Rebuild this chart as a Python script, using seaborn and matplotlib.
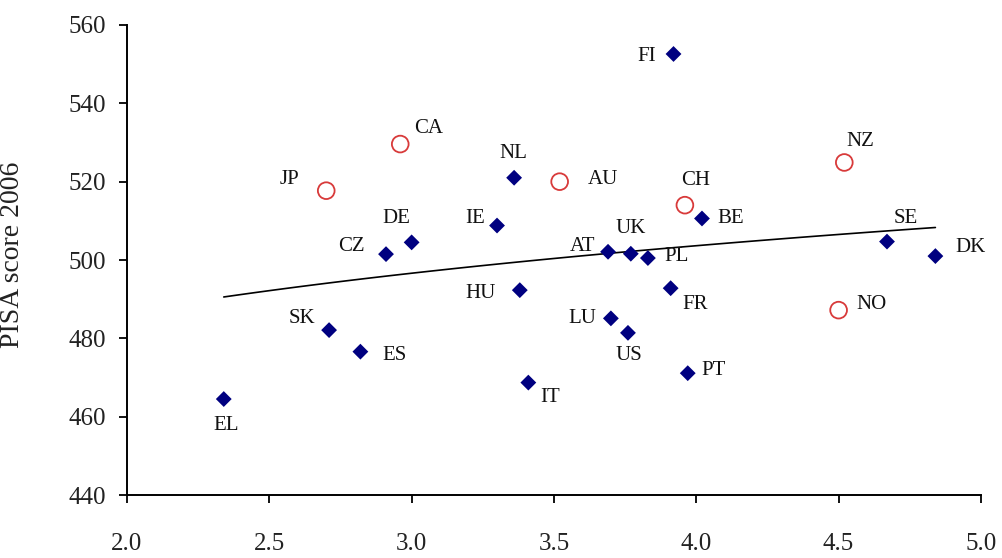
import matplotlib
matplotlib.use('Agg')
import numpy as np
import pandas as pd
import matplotlib.pyplot as plt
import seaborn as sns

# Datos: eje x (indicador) y puntuación PISA 2006
eu_paises = ['EL', 'SK', 'ES', 'CZ', 'DE', 'IE', 'NL', 'HU', 'IT', 'FI', 'AT',
             'UK', 'PL', 'LU', 'US', 'FR', 'PT', 'BE', 'SE', 'DK']
eu_x = [2.34, 2.71, 2.82, 2.91, 3.00, 3.30, 3.36, 3.38, 3.41, 3.92, 3.69,
        3.77, 3.83, 3.70, 3.76, 3.91, 3.97, 4.02, 4.67, 4.84]
eu_y = [464.5, 482.1, 476.6, 501.5, 504.5, 508.8, 521.0, 492.3, 468.7, 552.6, 502.1,
        501.6, 500.5, 485.1, 481.4, 492.8, 471.1, 510.6, 504.7, 501.0]

otros_paises = ['JP', 'CA', 'AU', 'CH', 'NZ', 'NO']
otros_x = [2.70, 2.96, 3.52, 3.96, 4.52, 4.50]
otros_y = [517.7, 529.6, 520.0, 514.0, 524.9, 487.2]

# Desplazamiento de etiquetas (pixeles)
offsets = {
    'EL': (2, -26), 'SK': (-27, 12), 'ES': (34, -4), 'CZ': (-35, 8),
    'DE': (-15, 24), 'JP': (-37, 11), 'CA': (28, 16), 'IE': (-22, 7),
    'NL': (-1, 24), 'AU': (43, 2), 'FI': (-27, -3), 'NZ': (16, 21),
    'CH': (11, 25), 'BE': (29, 0), 'SE': (19, 23), 'DK': (35, 9),
    'AT': (-25, 5), 'UK': (0, 25), 'PL': (29, 2), 'HU': (-39, -3),
    'FR': (24, -16), 'LU': (-29, 0), 'US': (1, -23), 'PT': (26, 3),
    'IT': (22, -15), 'NO': (33, 6),
}

df_eu = pd.DataFrame({'pais': eu_paises, 'x': eu_x, 'y': eu_y})
df_otros = pd.DataFrame({'pais': otros_paises, 'x': otros_x, 'y': otros_y})
df_todos = pd.concat([df_eu, df_otros], ignore_index=True)

sns.set_style('white')
plt.rcParams['font.family'] = ['Liberation Serif', 'DejaVu Serif']

fig = plt.figure(figsize=(10.03, 5.58), dpi=100)
ax = fig.add_axes([0.1266, 0.1129, 0.8514, 0.8423])

sns.scatterplot(data=df_eu, x='x', y='y', marker='D', s=65, color='#000080',
                edgecolor='none', ax=ax, zorder=3)
sns.scatterplot(data=df_otros, x='x', y='y', marker='o', s=145, facecolor='none',
                edgecolor='#d83a3a', linewidth=1.3, ax=ax, zorder=3)

# Tendencia logarítmica (todos los países)
a, b = np.polyfit(np.log(df_todos['x']), df_todos['y'], 1)
xs = np.linspace(df_todos['x'].min(), df_todos['x'].max(), 100)
sns.lineplot(x=xs, y=a * np.log(xs) + b, color='black', linewidth=1.2, ax=ax, zorder=2)

for df in (df_eu, df_otros):
    for _, fila in df.iterrows():
        dx, dy = offsets[fila['pais']]
        ax.annotate(fila['pais'], (fila['x'], fila['y']), xytext=(dx, dy),
                    textcoords='offset pixels', ha='center', va='center',
                    fontsize=15, color='#111111')

ax.set_xlim(2.0, 5.0)
ax.set_ylim(440, 560)
ax.set_xticks(np.arange(2.0, 5.01, 0.5))
ax.set_yticks(np.arange(440, 561, 20))
ax.set_xticklabels([f'{v:.1f}' for v in np.arange(2.0, 5.01, 0.5)])
ax.tick_params(axis='both', direction='out', length=6, width=1.3, color='black',
               labelsize=18, labelcolor='#222222', bottom=True, left=True)
ax.tick_params(axis='x', pad=21)
ax.tick_params(axis='y', pad=9)
ax.set_xlabel('')
ax.set_ylabel('PISA score 2006', fontsize=20, color='#222222')
ax.yaxis.set_label_coords(-0.12, 0.51)

sns.despine(ax=ax)
for lado in ('left', 'bottom'):
    ax.spines[lado].set_color('black')
    ax.spines[lado].set_linewidth(1.4)

fig.savefig('out.png', dpi=100)
